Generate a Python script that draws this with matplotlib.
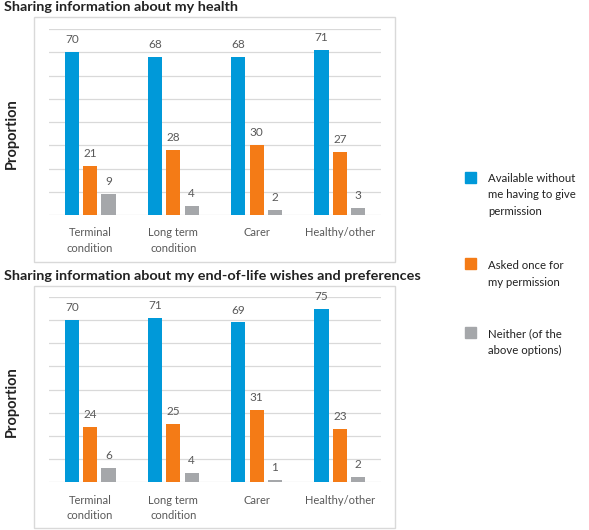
import matplotlib.pyplot as plt
import matplotlib.patches as mpatches
import numpy as np

plt.rcParams['font.family'] = ['Lato', 'DejaVu Sans']

categories = ['Terminal\ncondition', 'Long term\ncondition', 'Carer', 'Healthy/other']
series_names = ['Available without\nme having to give\npermission',
                'Asked once for\nmy permission',
                'Neither (of the\nabove options)']
colors = ['#0099d9', '#f47b16', '#a5a7aa']

# top panel: health info
health_available = [70, 68, 68, 71]
health_asked = [21, 28, 30, 27]
health_neither = [9, 4, 2, 3]

# bottom panel: end-of-life wishes
eol_available = [70, 71, 69, 75]
eol_asked = [24, 25, 31, 23]
eol_neither = [6, 4, 1, 2]

titles = ['Sharing information about my health',
          'Sharing information about my end-of-life wishes and preferences']

W, H = 589, 530
fig = plt.figure(figsize=(W / 100, H / 100), dpi=100)


def px_axes(x0, y0, x1, y1):
    return fig.add_axes([x0 / W, 1 - y1 / H, (x1 - x0) / W, (y1 - y0) / H])


def draw_panel(ax, data):
    x = np.arange(len(categories))
    w = 0.17
    step = 0.22
    for i, vals in enumerate(data):
        pos = x + (i - 1) * step
        ax.bar(pos, vals, width=w, color=colors[i], zorder=3)
        for p, v in zip(pos, vals):
            ax.text(p, v + 3, str(v), ha='center', va='bottom',
                    fontsize=8.5, color='#595959')
    ax.set_xlim(-0.5, 3.5)
    ax.set_ylim(0, 80)
    ax.set_yticks(np.arange(0, 81, 10))
    ax.set_yticklabels([])
    ax.tick_params(axis='y', length=0)
    ax.grid(axis='y', color='#d9d9d9', linewidth=0.9, zorder=0)
    ax.set_xticks(x)
    ax.set_xticklabels(categories, fontsize=8, color='#595959', linespacing=1.45)
    ax.tick_params(axis='x', length=0, pad=9)
    for s in ax.spines.values():
        s.set_visible(False)
    ax.patch.set_alpha(0)


panels = [
    (17, 262, 29, 215, [health_available, health_asked, health_neither]),
    (286, 528, 297, 482, [eol_available, eol_asked, eol_neither]),
]

for k, (by0, by1, ay0, ay1, data) in enumerate(panels):
    # light frame around each chart
    fig.patches.append(mpatches.Rectangle((34 / W, 1 - by1 / H), (395 - 34) / W,
                                          (by1 - by0) / H, transform=fig.transFigure,
                                          fill=False, edgecolor='#d9d9d9', linewidth=1))
    ax = px_axes(48.5, ay0, 381.5, ay1)
    draw_panel(ax, data)
    fig.text(4 / W, 1 - (by0 - 10) / H, titles[k], fontsize=10.4, fontweight='bold',
             va='center', ha='left', color='#222222')
    fig.text(12 / W, 1 - ((ay0 + ay1) / 2 + 12) / H, 'Proportion', rotation=90,
             fontsize=10.5, fontweight='bold', va='center', ha='center', color='#222222')

# legend on the right
legend_y = [177, 263, 332]
text_y = [195, 274, 342]
for c, name, ly, ty in zip(colors, series_names, legend_y, text_y):
    fig.patches.append(mpatches.Rectangle((465 / W, 1 - (ly + 5.5) / H), 11 / W, 11 / H,
                                          transform=fig.transFigure, color=c))
    fig.text(488 / W, 1 - ty / H, name, fontsize=8.2, va='center', ha='left',
             color='#222222', linespacing=1.65)

fig.savefig('out.png', dpi=100)
